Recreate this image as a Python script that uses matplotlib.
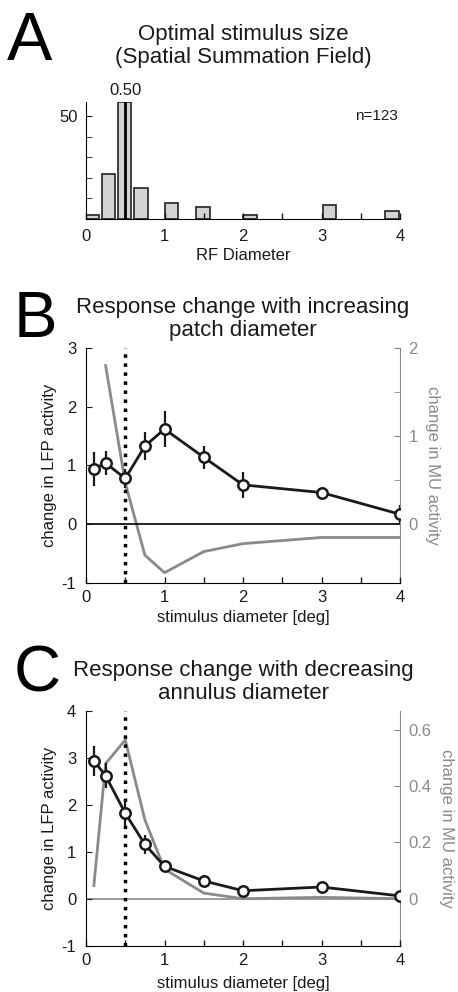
import matplotlib
matplotlib.use("Agg")
import matplotlib.pyplot as plt
from matplotlib.ticker import MultipleLocator, FixedLocator, FormatStrFormatter

plt.rcParams['font.family'] = ['Liberation Sans', 'DejaVu Sans']
plt.rcParams['axes.unicode_minus'] = False

# --- data ---
# A: histogram of optimal stimulus size
rf_centers = [0.085, 0.29, 0.49, 0.70, 1.09, 1.49, 2.09, 3.10, 3.90]
rf_counts = [2, 22, 57, 15, 8, 6, 2, 7, 4]
rf_median = 0.50
n_cells = 123

# B: increasing patch diameter
diam = [0.1, 0.25, 0.5, 0.75, 1.0, 1.5, 2.0, 3.0, 4.0]
patch_lfp = [0.94, 1.04, 0.78, 1.33, 1.62, 1.14, 0.67, 0.54, 0.17]
patch_err = [0.29, 0.20, 0.16, 0.24, 0.30, 0.20, 0.22, 0.10, 0.15]
patch_mu_x = [0.25, 0.5, 0.75, 1.0, 1.5, 2.0, 3.0, 4.0]
patch_mu = [1.80, 0.47, -0.35, -0.55, -0.31, -0.22, -0.15, -0.15]

# C: decreasing annulus diameter
annulus_lfp = [2.94, 2.62, 1.82, 1.16, 0.69, 0.38, 0.17, 0.25, 0.06]
annulus_err = [0.32, 0.27, 0.28, 0.20, 0.07, 0.12, 0.05, 0.05, 0.04]
annulus_mu = [0.047, 0.48, 0.564, 0.28, 0.105, 0.02, 0.0, 0.005, 0.0]

GRAY = '#8a8a8a'
DARK = '#1a1a1a'
TICK_FS = 12
LABEL_FS = 12
TITLE_FS = 16

fig = plt.figure(figsize=(4.58, 9.92), dpi=100)

def style_x(ax, pad=5):
    ax.set_xlim(0, 4)
    ax.xaxis.set_major_locator(MultipleLocator(1))
    ax.xaxis.set_minor_locator(MultipleLocator(0.5))
    ax.tick_params(axis='x', which='both', direction='in', length=4, width=1,
                   labelsize=TICK_FS, pad=pad, colors=DARK)
    ax.spines['top'].set_visible(False)

# ---------------- A ----------------
axA = fig.add_axes([0.1878, 0.7792, 0.6856, 0.118])
axA.bar(rf_centers, rf_counts, width=0.17, color='#d3d3d3', edgecolor='#222222',
        linewidth=1.2)
axA.plot([rf_median, rf_median], [0, 57], color='black', lw=2)
axA.set_ylim(0, 57)
style_x(axA, pad=7)
axA.spines['right'].set_visible(False)
axA.yaxis.set_major_locator(FixedLocator([50]))
axA.yaxis.set_minor_locator(FixedLocator([0, 10, 20, 30, 40]))
axA.tick_params(axis='y', which='both', direction='in', length=4,
                labelsize=TICK_FS, pad=6, colors=DARK)
axA.set_xlabel('RF Diameter', fontsize=LABEL_FS, labelpad=3, color=DARK)
axA.text(rf_median, 59, '%.2f' % rf_median, ha='center', va='bottom',
         fontsize=TICK_FS, color=DARK)
axA.text(3.97, 50, 'n=%d' % n_cells, ha='right', va='center', fontsize=11,
         color=DARK)
axA.text(0.5, 1.29, 'Optimal stimulus size\n(Spatial Summation Field)',
         transform=axA.transAxes, ha='center', va='bottom', fontsize=TITLE_FS,
         color=DARK, linespacing=1.1)
fig.text(0.015, 1 - 60 / 992, 'A', fontsize=49, va='baseline')


def response_panel(ax, lfp, err, mu_x, mu, ylim, mu_ylim, mu_ticks, mu_minor,
                   zero_color, title, letter, letter_y, xlabel_pad):
    ax.set_ylim(*ylim)
    style_x(ax)
    ax.axhline(0, color=zero_color, lw=1.2, zorder=1)
    ax.axvline(0.5, color='black', lw=2.5, linestyle=(0, (1, 1.6)), zorder=2)
    ax.errorbar(diam, lfp, yerr=err, color=DARK, lw=2, elinewidth=1.6,
                capsize=0, marker='o', markersize=7.5, markerfacecolor='white',
                markeredgecolor=DARK, markeredgewidth=1.8, zorder=5)
    ax.yaxis.set_major_locator(MultipleLocator(1))
    ax.tick_params(axis='y', which='both', direction='in', length=4,
                   labelsize=TICK_FS, pad=7, colors=DARK)
    ax.set_ylabel('change in LFP activity', fontsize=LABEL_FS, labelpad=3,
                  color=DARK)
    ax.set_xlabel('stimulus diameter [deg]', fontsize=LABEL_FS,
                  labelpad=xlabel_pad, color=DARK)
    ax.spines['right'].set_visible(False)

    ax2 = ax.twinx()
    ax2.plot(mu_x, mu, color=GRAY, lw=2, zorder=3)
    ax2.set_ylim(*mu_ylim)
    ax2.yaxis.set_major_locator(FixedLocator(mu_ticks))
    ax2.yaxis.set_major_formatter(FormatStrFormatter('%g'))
    if mu_minor:
        ax2.yaxis.set_minor_locator(FixedLocator(mu_minor))
    ax2.tick_params(axis='y', which='both', direction='in', length=4,
                    labelsize=TICK_FS, pad=6, colors=GRAY)
    for s in ['top', 'left', 'bottom']:
        ax2.spines[s].set_visible(False)
    ax2.spines['right'].set_color(GRAY)
    ax2.set_ylabel('change in MU activity', fontsize=LABEL_FS, color=GRAY,
                   rotation=270, labelpad=16)
    ax.set_zorder(ax2.get_zorder() + 1)
    ax.patch.set_visible(False)
    ax.text(0.5, 1.03, title, transform=ax.transAxes, ha='center', va='bottom',
            fontsize=TITLE_FS, color=DARK, linespacing=1.1)
    fig.text(0.03, 1 - letter_y / 992, letter, fontsize=47, va='baseline')


axB = fig.add_axes([0.1878, 0.4123, 0.6856, 0.2369])
response_panel(axB, patch_lfp, patch_err, patch_mu_x, patch_mu,
               (-1, 3), (-2 / 3, 2), [0, 1, 2], [0.5, 1.5], 'black',
               'Response change with increasing\npatch diameter', 'B', 337, 4)

axC = fig.add_axes([0.1878, 0.0467, 0.6856, 0.2366])
response_panel(axC, annulus_lfp, annulus_err, diam, annulus_mu,
               (-1, 4), (-1 / 6, 4 / 6), [0, 0.2, 0.4, 0.6], None, GRAY,
               'Response change with decreasing\nannulus diameter', 'C', 692, 6)

fig.savefig('out.png', dpi=100)
